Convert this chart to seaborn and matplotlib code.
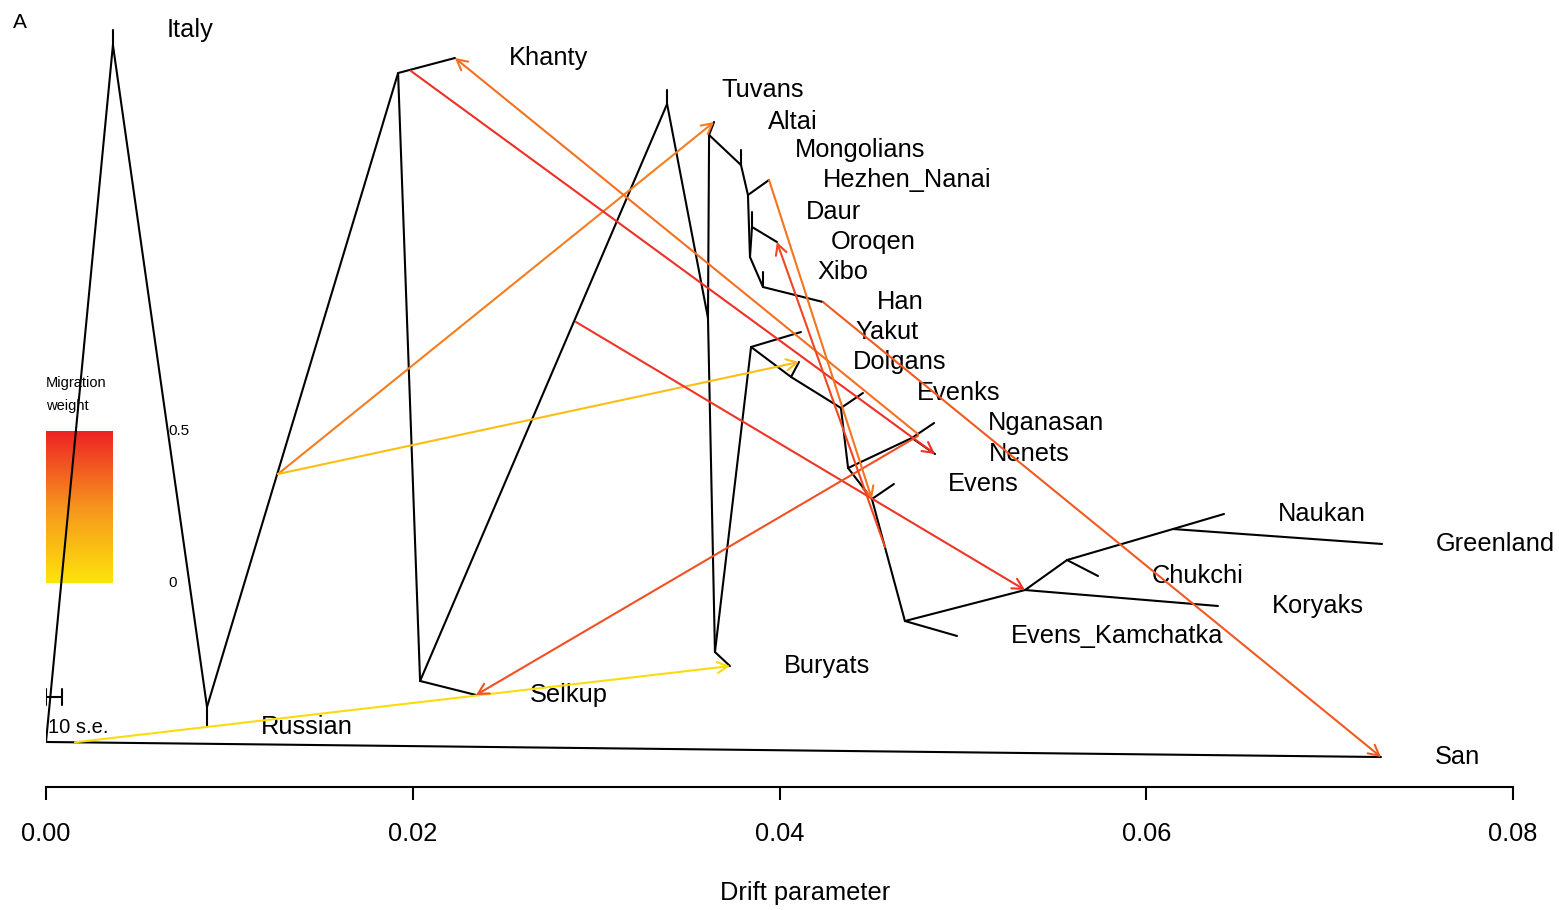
import numpy as np
import pandas as pd
import seaborn as sns
import matplotlib
matplotlib.use("Agg")
import matplotlib.pyplot as plt
from matplotlib.colors import LinearSegmentedColormap

# tree nodes: drift (x) and layout position (y, 0..1)
node_names = ["R", "San", "N1", "Italy", "N2", "Russian", "N3", "Khanty",
              "N4", "Selkup", "N5", "Tuvans", "N6", "N7", "Altai", "N9",
              "Mongolians", "N10", "Hezhen_Nanai", "N11", "N12", "Daur",
              "Oroqen", "N13", "Xibo", "Han", "N8", "Buryats", "N14", "Yakut",
              "N15", "Dolgans", "N16", "Evenks", "N17", "N19", "Nganasan",
              "Nenets", "N18", "Evens", "N20", "Evens_Kamchatka", "N21",
              "Koryaks", "N22", "Chukchi", "N23", "Naukan", "Greenland"]
node_x = [0.0, 0.07280, 0.00365, 0.00365, 0.00878, 0.00878, 0.01920, 0.02230,
          0.02040, 0.02345, 0.03387, 0.03387, 0.03610, 0.03616, 0.03643,
          0.03790, 0.03790, 0.03828, 0.03943, 0.03839, 0.03850, 0.03850,
          0.03986, 0.03910, 0.03910, 0.04237, 0.03648, 0.03730, 0.03845,
          0.04117, 0.04063, 0.04106, 0.04335, 0.04455, 0.04374, 0.04722,
          0.04843, 0.04848, 0.04504, 0.04624, 0.04684, 0.04968, 0.05339,
          0.06391, 0.05568, 0.05737, 0.06146, 0.06424, 0.07286]
node_y = [0.0572, 0.0381, 0.9428, 0.9619, 0.1017, 0.0762, 0.9072, 0.9263,
          0.1347, 0.1169, 0.8679, 0.8856, 0.5959, 0.8285, 0.8450, 0.7903,
          0.8094, 0.7522, 0.7713, 0.6734, 0.7116, 0.7306, 0.6925, 0.6353,
          0.6544, 0.6163, 0.1715, 0.1537, 0.5591, 0.5781, 0.5210, 0.5400,
          0.4816, 0.5006, 0.4053, 0.4435, 0.4625, 0.4231, 0.3659, 0.3850,
          0.2109, 0.1919, 0.2503, 0.2300, 0.2884, 0.2681, 0.3278, 0.3469,
          0.3088]

tip_names = ["San", "Italy", "Russian", "Khanty", "Selkup", "Tuvans", "Altai",
             "Mongolians", "Hezhen_Nanai", "Daur", "Oroqen", "Xibo", "Han",
             "Buryats", "Yakut", "Dolgans", "Evenks", "Nganasan", "Nenets",
             "Evens", "Evens_Kamchatka", "Koryaks", "Chukchi", "Naukan",
             "Greenland"]

edges = [("R", "San"), ("R", "N1"), ("N1", "Italy"), ("N1", "N2"),
         ("N2", "Russian"), ("N2", "N3"), ("N3", "Khanty"), ("N3", "N4"),
         ("N4", "Selkup"), ("N4", "N5"), ("N5", "Tuvans"), ("N5", "N6"),
         ("N6", "N7"), ("N7", "Altai"), ("N7", "N9"), ("N9", "Mongolians"),
         ("N9", "N10"), ("N10", "Hezhen_Nanai"), ("N10", "N11"),
         ("N11", "N12"), ("N12", "Daur"), ("N12", "Oroqen"), ("N11", "N13"),
         ("N13", "Xibo"), ("N13", "Han"), ("N6", "N8"), ("N8", "Buryats"),
         ("N8", "N14"), ("N14", "Yakut"), ("N14", "N15"), ("N15", "Dolgans"),
         ("N15", "N16"), ("N16", "Evenks"), ("N16", "N17"), ("N17", "N19"),
         ("N19", "Nganasan"), ("N19", "Nenets"), ("N17", "N18"),
         ("N18", "Evens"), ("N18", "N20"), ("N20", "Evens_Kamchatka"),
         ("N20", "N21"), ("N21", "Koryaks"), ("N21", "N22"),
         ("N22", "Chukchi"), ("N22", "N23"), ("N23", "Naukan"),
         ("N23", "Greenland")]

# migration edges: start point on the source edge, target node, weight
mig_from_x = [0.00158, 0.01265, 0.01265, 0.01990, 0.04755, 0.02890, 0.04755,
              0.03943, 0.04575, 0.04237]
mig_from_y = [0.0568, 0.3977, 0.3977, 0.9098, 0.4485, 0.5909, 0.4460,
              0.7713, 0.3050, 0.6163]
mig_to = ["Buryats", "Altai", "Dolgans", "Nenets", "Khanty", "N21", "Selkup",
          "N18", "Oroqen", "San"]
mig_weight = [0.03, 0.30, 0.12, 0.47, 0.33, 0.46, 0.40, 0.32, 0.42, 0.38]

x_ticks = [0.00, 0.02, 0.04, 0.06, 0.08]
se_bar = 0.00087  # 10 s.e.


def main():
    sns.set_style("white")
    plt.rcParams["font.family"] = ["Liberation Sans", "DejaVu Sans"]
    plt.rcParams["text.color"] = "black"
    plt.rcParams["axes.labelcolor"] = "black"
    plt.rcParams["xtick.color"] = "black"

    fig = plt.figure(figsize=(15.59, 9.10), dpi=100)
    ax = fig.add_axes([46 / 1559, 1 - 787 / 910, 1467 / 1559, 787 / 910])

    pos = {n: (x, y) for n, x, y in zip(node_names, node_x, node_y)}
    rows = []
    for i, (a, b) in enumerate(edges):
        rows.append({"edge": i, "x": pos[a][0], "y": pos[a][1]})
        rows.append({"edge": i, "x": pos[b][0], "y": pos[b][1]})
    tree = pd.DataFrame(rows)
    sns.lineplot(data=tree, x="x", y="y", units="edge", estimator=None,
                 sort=False, color="black", linewidth=1.5, ax=ax)

    # tip labels
    for n in tip_names:
        ax.annotate(n, pos[n], xytext=(39, 0), textcoords="offset points",
                    ha="left", va="center", fontsize=18.3)

    # migration arrows
    cmap = LinearSegmentedColormap.from_list(
        "mig", ["#FDE40B", "#F7941D", "#EE2325"])
    for fx, fy, t, w in zip(mig_from_x, mig_from_y, mig_to, mig_weight):
        ax.annotate("", xy=pos[t], xytext=(fx, fy),
                    arrowprops=dict(arrowstyle="->,head_length=0.75,head_width=0.4",
                                    color=cmap(w / 0.5), lw=1.5,
                                    shrinkA=0, shrinkB=0))

    # migration weight legend
    grad = np.linspace(1, 0, 200).reshape(-1, 1)
    ax.imshow(grad, cmap=cmap, aspect="auto", vmin=0, vmax=1,
              extent=(0.0, 0.00365, 0.2592, 0.4523), zorder=1)
    ax.text(0.00665, 0.4523, "0.5", fontsize=11, ha="left", va="center")
    ax.text(0.00665, 0.2592, "0", fontsize=11, ha="left", va="center")
    ax.text(0.0, 0.5134, "Migration", fontsize=10.5, ha="left", va="center")
    ax.text(0.0, 0.4841, "weight", fontsize=10.5, ha="left", va="center")

    # scale bar
    ax.plot([0, se_bar], [0.1144, 0.1144], color="black", lw=1.5)
    ax.plot([0, 0], [0.1044, 0.1244], color="black", lw=1.5)
    ax.plot([se_bar, se_bar], [0.1044, 0.1244], color="black", lw=1.5)
    ax.text(0.0001, 0.0762, "10 s.e.", fontsize=14.5, ha="left", va="center")

    ax.set_xlim(0, 0.08)
    ax.set_ylim(0, 1)
    ax.set_xticks(x_ticks)
    ax.set_xticklabels(["{:.2f}".format(t) for t in x_ticks], fontsize=18.3)
    ax.set_yticks([])
    ax.set_xlabel("")
    ax.set_ylabel("")
    for side in ["left", "right", "top"]:
        ax.spines[side].set_visible(False)
    ax.spines["bottom"].set_color("black")
    ax.spines["bottom"].set_linewidth(1.5)
    ax.tick_params(axis="x", direction="out", length=9.5, width=1.5,
                   pad=15.5, colors="black", bottom=True)

    fig.text(805 / 1559, 1 - 893 / 910, "Drift parameter", fontsize=18.3,
             ha="center", va="center")
    fig.text(20 / 1559, 1 - 22 / 910, "A", fontsize=15, ha="center",
             va="center")

    fig.savefig("out.png", dpi=100)


if __name__ == "__main__":
    main()
